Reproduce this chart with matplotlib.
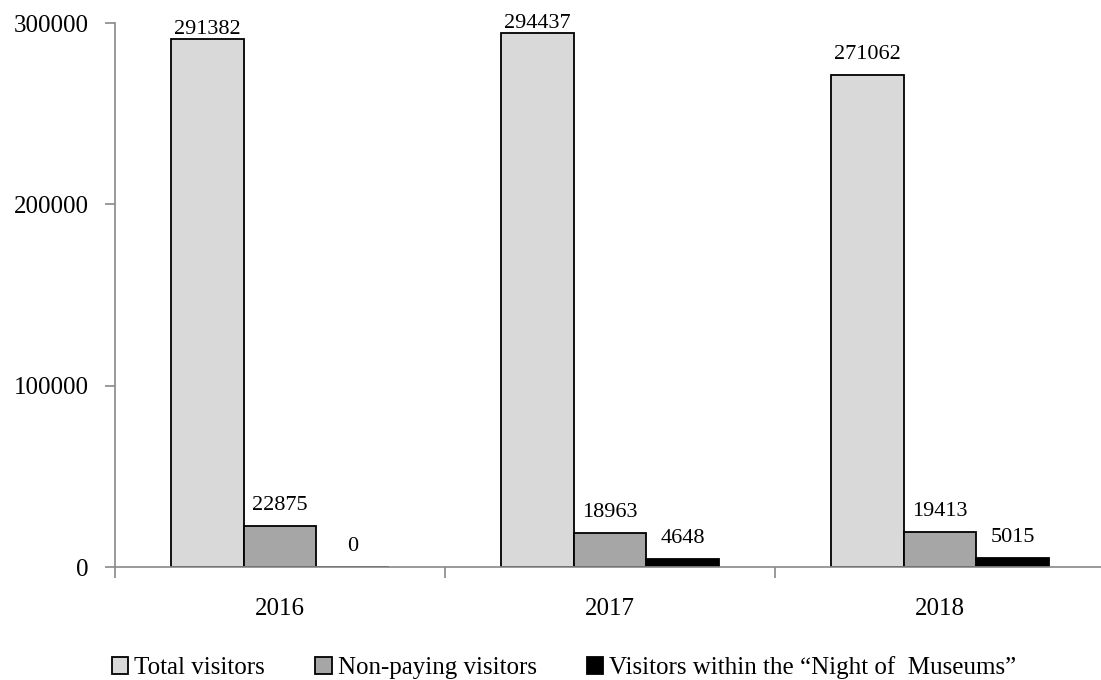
import numpy as np
import matplotlib
matplotlib.use('Agg')
import matplotlib.pyplot as plt

# Data
years = ['2016', '2017', '2018']
total_visitors = [291382, 294437, 271062]
non_paying = [22875, 18963, 19413]
night_of_museums = [0, 4648, 5015]
series_names = ['Total visitors', 'Non-paying visitors',
                'Visitors within the \u201cNight of  Museums\u201d']
yticks = [0, 100000, 200000, 300000]
ymax = 300000

plt.rcParams['font.family'] = ['Liberation Serif', 'DejaVu Serif']

fig = plt.figure(figsize=(11.01, 6.80), dpi=100)
# plot area: x from 115 to 1105 px (runs off the right edge), y from 23 to 567 px
ax = fig.add_axes([115 / 1101, 113 / 680, 990 / 1101, 544 / 680])

x = np.arange(len(years))
w = 0.22
colors = ['#d9d9d9', '#a6a6a6', '#000000']
series = [total_visitors, non_paying, night_of_museums]

for i, (vals, col, name) in enumerate(zip(series, colors, series_names)):
    pos = x + (i - 1) * w
    ax.bar(pos, vals, width=w, color=col, edgecolor='black', linewidth=1.3,
           label=name, zorder=3)
    for px, v in zip(pos, vals):
        # labels near the top of the plot area sit tight on the bar
        off = 0 if v > 0.95 * ymax else 11
        ax.annotate(str(v), (px, v), xytext=(0, off), textcoords='offset pixels',
                    ha='center', va='bottom', fontsize=16, annotation_clip=False)

ax.set_xlim(-0.5, 2.5)
ax.set_ylim(0, ymax)
ax.set_yticks(yticks)
ax.set_yticklabels([str(t) for t in yticks], fontsize=18)
ax.set_xticks(x)
ax.set_xticklabels(years, fontsize=18)
ax.set_xticks([-0.5, 0.5, 1.5, 2.5], minor=True)
ax.tick_params(axis='x', which='major', length=0, pad=22)
ax.tick_params(axis='x', which='minor', length=8, color='#898989', width=1.2)
ax.tick_params(axis='y', length=7, color='#898989', width=1.2, pad=12)

for s in ['top', 'right']:
    ax.spines[s].set_visible(False)
for s in ['left', 'bottom']:
    ax.spines[s].set_color('#898989')
    ax.spines[s].set_linewidth(1.2)
ax.spines['bottom'].set_zorder(4)

fig.legend(loc='center left', bbox_to_anchor=(112 / 1101, 1 - 668 / 680), ncol=3,
           frameon=False, fontsize=18, handlelength=0.65, handleheight=0.65,
           handletextpad=0.25, columnspacing=2.0, borderaxespad=0, borderpad=0)

fig.savefig('out.png', dpi=100)
